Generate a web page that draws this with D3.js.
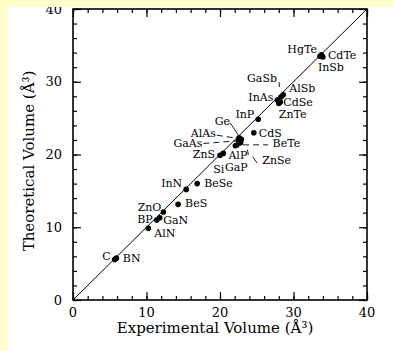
<!DOCTYPE html>
<html>
<head>
<meta charset="utf-8">
<script src="https://cdn.jsdelivr.net/npm/d3@7"></script>
<style>
  body { margin: 0; background: #ffffcc; }
  svg { display: block; }
  text { font-family: "DejaVu Serif", serif; fill: #000; }
</style>
</head>
<body>
<svg id="chart" width="394" height="351"></svg>
<script>
// compound, experimental volume, theoretical volume (A^3)
var compounds = ["C", "BN", "AlN", "BP", "GaN", "ZnO", "BeS", "InN", "BeSe",
    "ZnS", "Si", "AlP", "GaP", "Ge", "AlAs", "GaAs", "BeTe", "ZnSe", "CdS",
    "InP", "InAs", "CdSe", "ZnTe", "AlSb", "GaSb", "HgTe", "CdTe", "InSb"];
var expVolume = [5.67, 5.9, 10.25, 11.4, 11.8, 12.3, 14.3, 15.4, 16.9,
    20.0, 20.45, 22.1, 22.3, 22.6, 22.7, 22.5, 22.8, 22.9, 24.6,
    25.2, 27.8, 28.2, 28.0, 28.6, 28.3, 33.6, 33.8, 34.0];
var theoVolume = [5.55, 5.75, 9.85, 11.0, 11.3, 12.1, 13.15, 15.2, 16.0,
    19.9, 20.15, 21.2, 21.3, 22.3, 22.1, 22.0, 21.6, 22.1, 23.0,
    24.85, 27.5, 27.2, 27.0, 28.2, 27.9, 33.5, 33.7, 33.4];
var majorTicks = [0, 10, 20, 30, 40];
var minorTicks = d3.range(0, 41, 2);

// label placement (pixel offsets from the point), leaders where the plot had them
var labelLayout = {
    "C":    { dx: -4,  dy: 0,   anchor: "end" },
    "BN":   { dx: 6.5, dy: 4,   anchor: "start" },
    "AlN":  { dx: 6,   dy: 9,   anchor: "start" },
    "BP":   { dx: -4,  dy: 3,   anchor: "end" },
    "GaN":  { dx: 3.5, dy: 6,   anchor: "start" },
    "ZnO":  { dx: -2,  dy: -1,  anchor: "end" },
    "BeS":  { dx: 7,   dy: 3,   anchor: "start" },
    "InN":  { dx: -4,  dy: -2,  anchor: "end" },
    "BeSe": { dx: 7,   dy: 3.5, anchor: "start" },
    "ZnS":  { dx: -5,  dy: 3,   anchor: "end" },
    "Si":   { dx: -10, dy: 19.5, anchor: "start" },
    "AlP":  { dx: -7,  dy: 13,  anchor: "start", lead: [12, 4, 13, 9] },
    "GaP":  { dx: -12, dy: 25.5, anchor: "start" },
    "Ge":   { dx: -9,  dy: -13, anchor: "end", lead: [-9, -15, -1, -3] },
    "AlAs": { dx: -24, dy: -2.5, anchor: "end", lead: [-23, -4, -3, -1], dash: true },
    "GaAs": { dx: -36, dy: 7.5, anchor: "end", lead: [-35, 3.5, -2, 1], dash: true },
    "BeTe": { dx: 32,  dy: 4,   anchor: "start", lead: [2.5, 2, 27.5, 2], dash: true },
    "ZnSe": { dx: 21,  dy: 25,  anchor: "start", lead: [11.4, 17.5, 15.7, 23.8] },
    "CdS":  { dx: 5,   dy: 4,   anchor: "start" },
    "InP":  { dx: -4,  dy: -1,  anchor: "end" },
    "InAs": { dx: -4,  dy: 1,   anchor: "end" },
    "CdSe": { dx: 3,   dy: 4,   anchor: "start" },
    "ZnTe": { dx: 0,   dy: 14,  anchor: "start" },
    "AlSb": { dx: 6,   dy: -3,  anchor: "start" },
    "GaSb": { dx: -4,  dy: -15, anchor: "end", lead: [-2, -15, -1.5, -10] },
    "HgTe": { dx: -3,  dy: -3,  anchor: "end" },
    "CdTe": { dx: 6.5, dy: 4,   anchor: "start" },
    "InSb": { dx: -5,  dy: 14,  anchor: "start" }
};

(function() {
    var svg = d3.select("#chart");

    svg.append("clipPath").attr("id", "panel")
        .append("rect").attr("x", 8).attr("y", 7).attr("width", 386).attr("height", 344);

    var root = svg.append("g").attr("clip-path", "url(#panel)");
    root.append("rect").attr("x", 8).attr("y", 7).attr("width", 386).attr("height", 344)
        .attr("fill", "#fff");

    var pl = 73, pr = 367, pt = 9, pb = 300;
    var x = d3.scaleLinear().domain([0, 40]).range([pl, pr]);
    var y = d3.scaleLinear().domain([0, 40]).range([pb, pt]);

    // ticks, all pointing inwards
    function ticks(axis, size, vals, tr) {
        var g = root.append("g").attr("transform", tr)
            .call(axis.tickValues(vals).tickSize(-size).tickFormat(""));
        g.select(".domain").remove();
        g.selectAll(".tick line").attr("stroke", "#000").attr("stroke-width", 1.2);
        return g;
    }
    [[4, minorTicks], [8, majorTicks]].forEach(function(t) {
        ticks(d3.axisBottom(x), t[0], t[1], "translate(0," + pb + ")");
        ticks(d3.axisTop(x), t[0], t[1], "translate(0," + pt + ")");
        ticks(d3.axisLeft(y), t[0], t[1], "translate(" + pl + ",0)");
        ticks(d3.axisRight(y), t[0], t[1], "translate(" + pr + ",0)");
    });

    root.append("rect")
        .attr("x", pl).attr("y", pt)
        .attr("width", pr - pl).attr("height", pb - pt)
        .attr("fill", "none").attr("stroke", "#000").attr("stroke-width", 1.6);

    // tick labels
    root.selectAll("text.xt").data(majorTicks).enter().append("text")
        .attr("class", "xt")
        .attr("x", function(d) { return x(d); })
        .attr("y", pb + 17)
        .attr("text-anchor", "middle")
        .style("font-size", "13px")
        .text(function(d) { return d; });

    root.selectAll("text.yt").data(majorTicks).enter().append("text")
        .attr("class", "yt")
        .attr("x", pl - 11)
        .attr("y", function(d) { return y(d); })
        .attr("dy", "0.36em")
        .attr("text-anchor", "end")
        .style("font-size", "13px")
        .text(function(d) { return d; });

    // axis titles
    root.append("text")
        .attr("x", 215).attr("y", 333)
        .attr("text-anchor", "middle")
        .style("font-size", "15px")
        .text("Experimental Volume (Å³)");

    root.append("text")
        .attr("transform", "translate(34,161) rotate(-90)")
        .attr("text-anchor", "middle")
        .style("font-size", "15px")
        .text("Theoretical Volume (Å³)");

    // y = x line
    root.append("line")
        .attr("x1", x(0)).attr("y1", y(0))
        .attr("x2", x(40)).attr("y2", y(40))
        .attr("stroke", "#000").attr("stroke-width", 1);

    var pts = compounds.map(function(c, i) {
        return { name: c, ex: expVolume[i], th: theoVolume[i] };
    });

    // leaders
    root.selectAll("line.lead").data(pts.filter(function(d) { return labelLayout[d.name].lead; }))
        .enter().append("line")
        .attr("class", "lead")
        .attr("x1", function(d) { return x(d.ex) + labelLayout[d.name].lead[0]; })
        .attr("y1", function(d) { return y(d.th) + labelLayout[d.name].lead[1]; })
        .attr("x2", function(d) { return x(d.ex) + labelLayout[d.name].lead[2]; })
        .attr("y2", function(d) { return y(d.th) + labelLayout[d.name].lead[3]; })
        .attr("stroke", "#000").attr("stroke-width", 0.9)
        .attr("stroke-dasharray", function(d) { return labelLayout[d.name].dash ? "6,4" : null; });

    root.selectAll("circle.pt").data(pts).enter().append("circle")
        .attr("class", "pt")
        .attr("cx", function(d) { return x(d.ex); })
        .attr("cy", function(d) { return y(d.th); })
        .attr("r", 2.8)
        .attr("fill", "#000");

    root.selectAll("text.lab").data(pts).enter().append("text")
        .attr("class", "lab")
        .attr("x", function(d) { return x(d.ex) + labelLayout[d.name].dx; })
        .attr("y", function(d) { return y(d.th) + labelLayout[d.name].dy; })
        .attr("text-anchor", function(d) { return labelLayout[d.name].anchor; })
        .style("font-size", "11px")
        .text(function(d) { return d.name; });
})();
</script>
</body>
</html>
